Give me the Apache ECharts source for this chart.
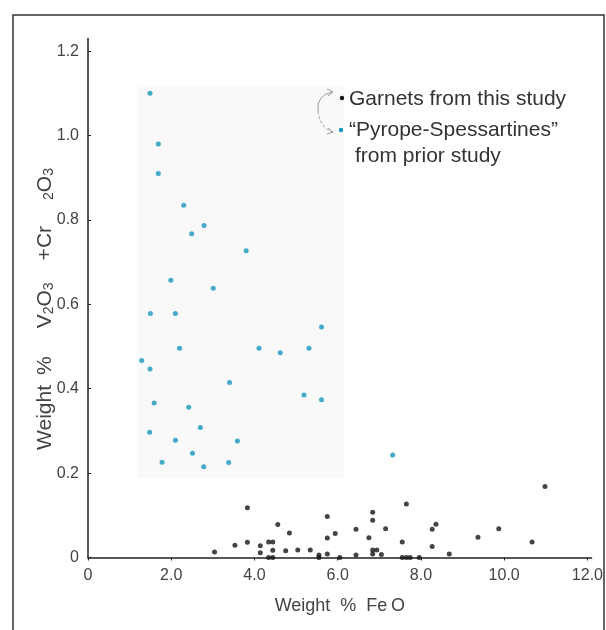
<!DOCTYPE html>
<html>
<head>
<meta charset="utf-8">
<script src="https://cdn.jsdelivr.net/npm/echarts@6/dist/echarts.min.js"></script>
<style>html,body{margin:0;padding:0;background:#fff}#c{width:606px;height:630px}</style>
</head>
<body>
<div id="c"></div>
<script>
// X ticks, Y ticks
var xTicks = [0, 2, 4, 6, 8, 10, 12];
var yTicks = [0, 0.2, 0.4, 0.6, 0.8, 1.0, 1.2];

// "Pyrope-Spessartines" from prior study
var pyropeFeO = [1.49,1.69,1.69,2.30,2.79,2.49,3.80,1.99,3.01,1.50,2.10,5.61,2.20,4.11,4.62,5.31,1.29,1.49,3.40,5.19,5.61,1.59,2.42,2.70,1.48,2.10,3.59,2.51,1.78,2.78,3.38,7.32];
var pyropeVCr = [1.10,0.98,0.91,0.835,0.787,0.767,0.727,0.657,0.638,0.578,0.578,0.546,0.496,0.496,0.485,0.496,0.467,0.447,0.415,0.385,0.374,0.366,0.356,0.308,0.297,0.278,0.276,0.247,0.226,0.215,0.225,0.243];

// Garnets from this study
var garnetFeO = [3.04,3.53,3.83,3.83,4.14,4.14,4.34,4.44,4.44,4.34,4.44,4.56,4.75,4.84,5.04,5.34,5.55,5.55,5.75,5.75,5.75,5.94,6.05,6.44,6.44,6.75,6.84,6.84,6.84,6.94,6.84,7.05,7.15,7.65,7.55,7.55,7.65,7.74,7.96,8.27,8.36,8.27,8.68,9.37,9.87,10.67,10.98];
var garnetVCr = [0.013,0.029,0.118,0.036,0.028,0.011,0.037,0.037,0.017,0.0,0.0,0.078,0.016,0.058,0.018,0.018,0.006,0.0,0.097,0.046,0.008,0.057,0.0,0.067,0.006,0.047,0.107,0.088,0.018,0.018,0.008,0.007,0.068,0.127,0.037,0.0,0.0,0.0,0.0,0.067,0.079,0.026,0.008,0.048,0.068,0.037,0.168];

// shaded region of prior-study data [xMin, yMin, xMax, yMax]
var shadeBox = [1.19, 0.188, 6.15, 1.115];

function zip(a, b) { return a.map(function (v, i) { return [v, b[i]]; }); }

var chart = echarts.init(document.getElementById('c'));
var font = 'Liberation Sans, Arial, sans-serif';
var txt = '#444';
var cyan = '#1596bd';
var nBase = { fontFamily: font, fontSize: 21, color: txt, lineHeight: 22 };
function n(extra) { return Object.assign({}, nBase, extra || {}); }
chart.setOption({
  animation: false,
  grid: { left: 88, right: 8.6, top: 38.5, bottom: 72.5 },
  xAxis: {
    type: 'value', min: 0, max: 12.1,
    name: 'Weight  %  Fe\u2009O', nameLocation: 'middle', nameGap: 40, nameMoveOverlap: false,
    nameTextStyle: { fontFamily: font, fontSize: 18, color: txt },
    splitLine: { show: false },
    axisLine: { lineStyle: { color: '#222', width: 1.5 } },
    axisTick: { customValues: xTicks, length: 3, lineStyle: { color: '#222' } },
    axisLabel: { customValues: xTicks, fontFamily: font, fontSize: 16, color: txt, margin: 10,
      formatter: function (v) { return v === 0 ? '0' : v.toFixed(1); } }
  },
  yAxis: {
    type: 'value', min: 0, max: 1.23,
    name: '{a|Weight}{b|%}{n|V}{s|2}{n|O}{s|3}{c|+Cr}{s|2}{n|O}{e|3}', nameLocation: 'middle', nameGap: 32, nameMoveOverlap: false,
    nameTextStyle: { fontFamily: font, fontSize: 21, color: txt,
      rich: {
        a: n({ padding: [0, 10, 0, 0] }),
        b: n({ padding: [0, 28, 0, 0] }),
        n: n(),
        c: n({ padding: [0, 26, 0, 22] }),
        s: { fontFamily: font, fontSize: 14, color: txt, lineHeight: 14, verticalAlign: 'bottom' },
        e: { fontFamily: font, fontSize: 14, color: txt, lineHeight: 14, verticalAlign: 'bottom', padding: [0, 22, 0, 0] }
      } },
    splitLine: { show: false },
    axisLine: { lineStyle: { color: '#222', width: 1.5 } },
    axisTick: { customValues: yTicks, inside: true, length: 3, lineStyle: { color: '#222' } },
    axisLabel: { customValues: yTicks, fontFamily: font, fontSize: 16, color: txt, margin: 9,
      formatter: function (v) { return v === 0 ? '0' : v.toFixed(1); } }
  },
  series: [
    {
      name: '"Pyrope-Spessartines" from prior study',
      type: 'scatter', symbolSize: 5,
      itemStyle: { color: cyan },
      data: zip(pyropeFeO, pyropeVCr),
      markArea: {
        silent: true,
        itemStyle: { color: '#f9f9f9' },
        data: [[{ coord: [shadeBox[0], shadeBox[1]] }, { coord: [shadeBox[2], shadeBox[3]] }]]
      }
    },
    {
      name: 'Garnets from this study',
      type: 'scatter', symbolSize: 5,
      itemStyle: { color: '#151515' },
      data: zip(garnetFeO, garnetVCr)
    }
  ],
  graphic: [
    { type: 'rect', z: 100, shape: { x: 13, y: 15, width: 591, height: 640 }, silent: true,
      style: { fill: null, stroke: '#333', lineWidth: 1.5 } },
    { type: 'circle', z: 100, shape: { cx: 342, cy: 98, r: 2.2 }, style: { fill: '#151515' } },
    { type: 'circle', z: 100, shape: { cx: 341, cy: 130, r: 2.2 }, style: { fill: cyan } },
    { type: 'text', z: 100, x: 349, y: 99, style: { text: 'Garnets from this study', font: '21px ' + font, fill: '#333', verticalAlign: 'middle' } },
    { type: 'text', z: 100, x: 349, y: 130, style: { text: '\u201cPyrope-Spessartines\u201d', font: '21px ' + font, fill: '#333', verticalAlign: 'middle' } },
    { type: 'text', z: 100, x: 355, y: 156, style: { text: 'from prior study', font: '21px ' + font, fill: '#333', verticalAlign: 'middle' } },
    { type: 'bezierCurve', z: 100, shape: { x1: 332, y1: 92, cpx1: 316, cpy1: 96, x2: 318, y2: 111 }, style: { fill: null, stroke: '#999', lineWidth: 1 } },
    { type: 'bezierCurve', z: 100, shape: { x1: 318, y1: 111, cpx1: 320, cpy1: 128, x2: 333, y2: 132 }, style: { fill: null, stroke: '#999', lineWidth: 1, lineDash: [3, 2] } },
    { type: 'polyline', z: 100, shape: { points: [[327, 89], [333, 92], [328, 96]] }, style: { fill: null, stroke: '#999', lineWidth: 1 } },
    { type: 'polyline', z: 100, shape: { points: [[328, 128], [333, 132], [327, 134]] }, style: { fill: null, stroke: '#999', lineWidth: 1 } }
  ]
});
</script>
</body>
</html>
